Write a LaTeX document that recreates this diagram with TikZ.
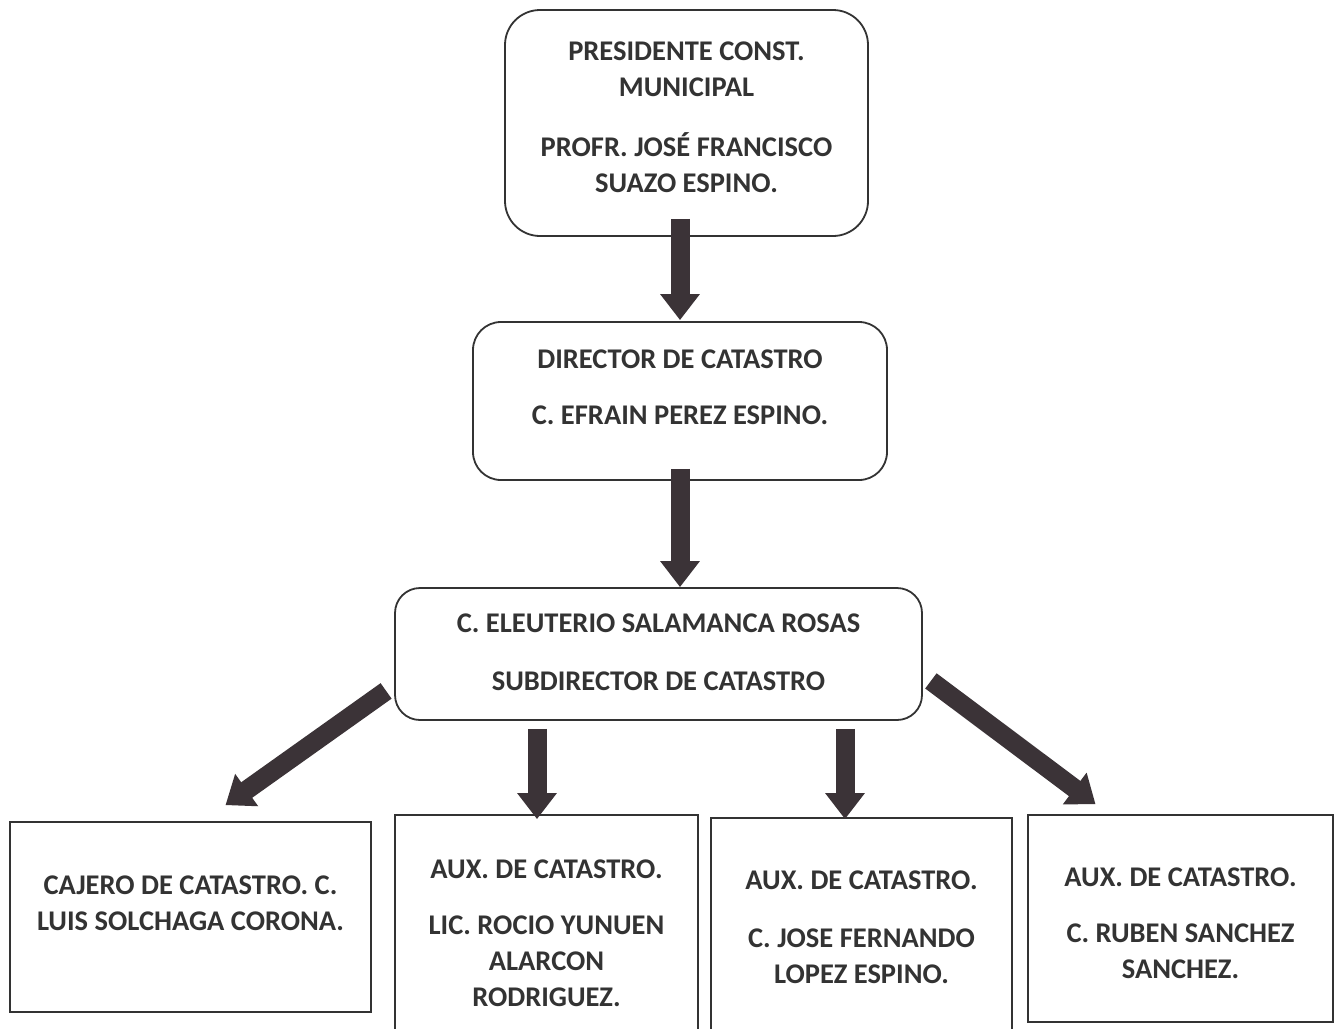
\documentclass[tikz,border=0pt]{standalone}
\usepackage{fontspec}
\setmainfont{Carlito}
\usetikzlibrary{arrows.meta,calc}
\definecolor{ink}{HTML}{333333}
\definecolor{arr}{HTML}{3B3337}
\newcommand{\boxtext}[2]{\raisebox{#1}[\height][\depth]{\begin{tabular}{@{}c@{}}#2\end{tabular}}}
\tikzset{
  rbox/.style={draw=ink, line width=1.8pt, rounded corners=28pt, align=center, inner sep=0pt,
    font=\fontsize{28.5}{36}\selectfont\bfseries, text=ink},
  sbox/.style={draw=ink, line width=1.8pt, align=center, inner sep=0pt,
    font=\fontsize{28.5}{36}\selectfont\bfseries, text=ink},
  barrow/.style={draw=arr, line width=19pt, -{Triangle[width=38pt,length=26pt]}, arr},
}
\begin{document}
\begin{tikzpicture}[x=1pt,y=-1pt]
\useasboundingbox (0,0) rectangle (1335,1028);
\clip (0,0) rectangle (1335,1028);
\fill[white] (0,0) rectangle (1335,1028);

\node[rbox, rounded corners=35pt, minimum width=363pt, minimum height=226pt] (pres) at (686.5,123)
  {\boxtext{4pt}{PRESIDENTE CONST.\\MUNICIPAL\\[24pt]PROFR. JOSÉ FRANCISCO\\SUAZO ESPINO.}};
\node[rbox, minimum width=414pt, minimum height=158pt] (dir) at (680,401)
  {\boxtext{12pt}{DIRECTOR DE CATASTRO\\[20pt]C. EFRAIN PEREZ ESPINO.}};
\node[rbox, rounded corners=25pt, minimum width=527pt, minimum height=132pt] (sub) at (658.5,654)
  {\boxtext{0pt}{C. ELEUTERIO SALAMANCA ROSAS\\[22pt]SUBDIRECTOR DE CATASTRO}};

\node[sbox, minimum width=361pt, minimum height=190pt] (caj) at (190.5,917)
  {\boxtext{12pt}{CAJERO DE CATASTRO. C.\\LUIS SOLCHAGA CORONA.}};
\node[sbox, minimum width=303pt, minimum height=240pt] (aux1) at (546.5,935)
  {\boxtext{0pt}{AUX. DE CATASTRO.\\[20pt]LIC. ROCIO YUNUEN\\ALARCON\\RODRIGUEZ.}};
\node[sbox, minimum width=301pt, minimum height=238pt] (aux2) at (861.5,937)
  {\boxtext{8pt}{AUX. DE CATASTRO.\\[22pt]C. JOSE FERNANDO\\LOPEZ ESPINO.}};
\node[sbox, minimum width=305pt, minimum height=207pt] (aux3) at (1180.5,918.5)
  {\boxtext{-7pt}{AUX. DE CATASTRO.\\[20pt]C. RUBEN SANCHEZ\\SANCHEZ.}};

\draw[barrow] ($(pres.south)+(-6.5,-18)$) -- ($(dir.north)+(0,-1)$);
\draw[barrow] ($(dir.south)+(0,-12)$) -- ($(sub.north)+(21.5,0)$);

\coordinate (t1) at ($(sub.south west)+(-8,-30)$);
\coordinate (h1) at ($(caj.north)+(35,-16)$);
\draw[barrow] (t1) -- (h1);
\draw[barrow] ($(sub.south)+(-121.5,8)$) -- ($(aux1.north)+(-9.5,5)$);
\draw[barrow] ($(sub.south)+(186.5,8)$) -- ($(aux2.north)+(-16.5,2)$);
\coordinate (t4) at ($(sub.south east)+(8,-40)$);
\coordinate (h4) at ($(aux3.north)+(-85,-10)$);
\draw[barrow] (t4) -- (h4);
\end{tikzpicture}
\end{document}
